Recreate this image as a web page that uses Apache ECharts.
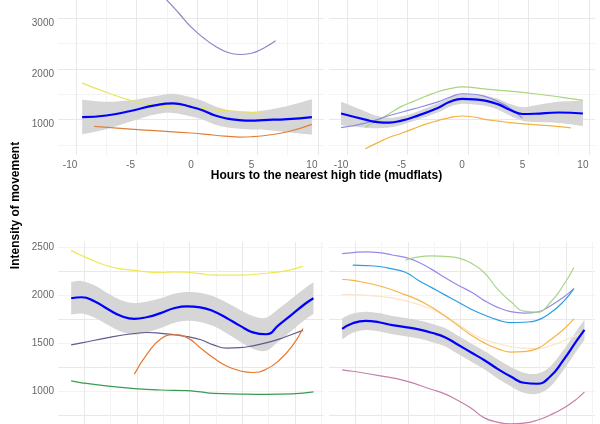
<!DOCTYPE html>
<html>
<head>
<meta charset="utf-8">
<script src="https://cdn.jsdelivr.net/npm/echarts@6/dist/echarts.min.js"></script>
<style>
  html, body { margin: 0; padding: 0; background: #fff; }
  #main { width: 600px; height: 424px; }
</style>
</head>
<body>
<div id="main"></div>
<script>
// top row: hours to high tide (mudflats)
var tlBlueX = [-9, -7, -5, -3, -1.5, 0, 1, 2, 3, 4, 5, 6, 8, 10];
var tlBlueY = [1150, 1180, 1270, 1380, 1420, 1350, 1280, 1180, 1120, 1090, 1080, 1090, 1110, 1150];
var tlBandHalf = [340, 270, 210, 180, 190, 190, 185, 180, 175, 170, 175, 190, 260, 350];
var tlYellowX = [-9, -7, -5, -3, -1, 0, 2, 4, 6];
var tlYellowY = [1820, 1640, 1480, 1380, 1345, 1340, 1290, 1255, 1225];
var tlOrangeX = [-8, -5, -3, 0, 2, 4, 5, 6, 8, 10];
var tlOrangeY = [965, 910, 880, 835, 790, 755, 760, 780, 860, 1005];
var tlPurpleX = [-4, -3, -2, -1, 0, 1, 2, 3, 4, 5, 6, 7];
var tlPurpleY = [3950, 3700, 3460, 3200, 2930, 2720, 2550, 2430, 2385, 2410, 2510, 2655];

var trBlueX = [-10, -8, -7, -6, -5, -4, -2, -1, 0, 1, 2, 3, 4, 5, 6, 8, 10];
var trBlueY = [1220, 1100, 1050, 1040, 1080, 1150, 1330, 1450, 1510, 1500, 1470, 1400, 1290, 1210, 1215, 1240, 1220];
var trBandHalf = [230, 160, 120, 95, 85, 80, 90, 95, 100, 100, 100, 105, 115, 135, 165, 210, 250];
var trGreenX = [-8, -7, -6, -5, -4, -3, -2, -1, 0, 2, 4, 6, 8, 10];
var trGreenY = [950, 1080, 1220, 1360, 1460, 1560, 1650, 1710, 1745, 1700, 1660, 1610, 1550, 1480];
var trPurpleX = [-10, -8, -6, -4, -2, -1, 0, 1, 2, 3, 4, 5];
var trPurpleY = [940, 1030, 1180, 1310, 1450, 1540, 1610, 1600, 1550, 1450, 1320, 1130];
var trOrangeX = [-8, -7, -6, -5, -4, -3, -2, -1, 0, 1, 2, 3, 4, 6, 8, 9];
var trOrangeY = [525, 640, 750, 830, 920, 1010, 1080, 1140, 1170, 1150, 1100, 1070, 1040, 1000, 960, 935];

// bottom row
var blBlueX = [-4.4, -4, -3.5, -3, -2.5, -2, -1.5, -1, -0.5, 0, 0.5, 1, 1.5, 2, 2.5, 3, 3.5, 4, 4.5, 4.8];
var blBlueY = [1965, 1975, 1930, 1850, 1780, 1750, 1770, 1810, 1860, 1880, 1870, 1830, 1760, 1680, 1610, 1590, 1690, 1800, 1910, 1965];
var blBandHalf = [170, 170, 168, 165, 165, 165, 160, 155, 152, 150, 152, 155, 160, 165, 170, 172, 170, 168, 165, 165];
var blYellowX = [-4.4, -4, -3.5, -3, -2.5, -2, -1.5, -1, -0.5, 0, 0.5, 1, 2, 3, 3.5, 4, 4.4];
var blYellowY = [2460, 2410, 2350, 2300, 2270, 2255, 2240, 2230, 2240, 2235, 2220, 2205, 2205, 2225, 2240, 2265, 2300];
var blSlateX = [-4.4, -4, -3, -2, -1.5, -1, -0.5, 0, 0.5, 1, 1.5, 2, 2.5, 3, 3.5, 4, 4.4];
var blSlateY = [1480, 1500, 1555, 1598, 1608, 1600, 1585, 1565, 1535, 1480, 1445, 1450, 1470, 1500, 1540, 1590, 1630];
var blOrangeX = [-2, -1.5, -1, -0.5, 0, 0.5, 1, 1.5, 2, 2.5, 3, 3.5, 4, 4.4];
var blOrangeY = [1175, 1390, 1540, 1585, 1555, 1450, 1345, 1260, 1210, 1192, 1225, 1320, 1470, 1650];
var blGreenX = [-4.4, -4, -3, -2, -1, 0, 0.5, 1, 2, 3, 4, 4.8];
var blGreenY = [1105, 1085, 1050, 1025, 1010, 1003, 990, 975, 968, 965, 970, 990];

var brBlueX = [-4.4, -4, -3.5, -3, -2.5, -2, -1.5, -1, -0.5, 0, 0.5, 1, 1.5, 2, 2.5, 3, 3.5, 4, 4.5, 4.8];
var brBlueY = [1645, 1705, 1730, 1715, 1685, 1665, 1640, 1605, 1560, 1480, 1400, 1320, 1230, 1150, 1085, 1075, 1150, 1320, 1520, 1635];
var brBandHalf = [110, 100, 95, 95, 95, 95, 95, 95, 95, 95, 95, 95, 100, 100, 105, 105, 105, 105, 105, 105];
var brPurpleX = [-4.4, -4, -3.5, -3, -2.5, -2, -1.5, -1, -0.5, 0, 0.5, 1, 1.5, 2, 2.5, 3, 3.5, 4, 4.4];
var brPurpleY = [2430, 2440, 2448, 2440, 2415, 2390, 2340, 2265, 2180, 2100, 2030, 1940, 1870, 1825, 1810, 1820, 1885, 1975, 2065];
var brGreenX = [-2, -1.5, -1, -0.5, 0, 0.5, 1, 1.5, 2, 2.5, 3, 3.5, 4, 4.4];
var brGreenY = [2360, 2395, 2405, 2400, 2385, 2330, 2230, 2060, 1930, 1830, 1820, 1920, 2100, 2285];
var brSkyX = [-4, -3.5, -3, -2.5, -2, -1.5, -1, -0.5, 0, 0.5, 1, 1.5, 2, 2.5, 3, 3.5, 4, 4.4];
var brSkyY = [2310, 2305, 2295, 2270, 2235, 2150, 2075, 2000, 1925, 1850, 1790, 1740, 1710, 1715, 1735, 1810, 1930, 2065];
var brOrangeX = [-4.4, -4, -3, -2, -1.5, -1, -0.5, 0, 0.5, 1, 1.5, 2, 2.5, 3, 3.5, 4, 4.4];
var brOrangeY = [2160, 2150, 2095, 2000, 1945, 1870, 1780, 1680, 1580, 1500, 1440, 1405, 1410, 1440, 1530, 1640, 1750];
var brPaleX = [-4.4, -3, -2, -1, -0.5, 0, 0.5, 1, 1.5, 2, 2.5, 3, 3.5, 4, 4.8];
var brPaleY = [2005, 1985, 1940, 1850, 1780, 1700, 1600, 1535, 1495, 1460, 1445, 1440, 1470, 1520, 1615];
var brPinkX = [-4.4, -4, -3, -2, -1, -0.5, 0, 0.5, 1, 1.5, 2, 2.5, 3, 3.5, 4, 4.5, 4.8];
var brPinkY = [1220, 1205, 1160, 1105, 1015, 970, 900, 820, 720, 675, 658, 665, 695, 750, 820, 915, 990];

var FONT = '"Liberation Sans", Arial, sans-serif';
var MAJ = '#e8e8e8', MIN = '#f3f3f3', NO = 'rgba(0,0,0,0)';

function pairs(xs, ys) {
    return xs.map(function (x, i) { return [x, ys[i]]; });
}

function line(g, xs, ys, color, width, z) {
    return {
        type: 'line', xAxisIndex: g, yAxisIndex: g,
        data: pairs(xs, ys), smooth: 0.5, symbol: 'none', silent: true,
        lineStyle: { color: color, width: width || 1.2 }, z: z || 3
    };
}

// cubic pieces through pixel points (catmull-rom style), open ends
function curve(p, first) {
    var d = (first ? 'M' : 'L') + p[0][0] + ' ' + p[0][1];
    for (var i = 0; i < p.length - 1; i++) {
        var p0 = p[Math.max(i - 1, 0)], p1 = p[i], p2 = p[i + 1], p3 = p[Math.min(i + 2, p.length - 1)];
        var c1x = p1[0] + (p2[0] - p0[0]) / 6, c1y = p1[1] + (p2[1] - p0[1]) / 6;
        var c2x = p2[0] - (p3[0] - p1[0]) / 6, c2y = p2[1] - (p3[1] - p1[1]) / 6;
        d += 'C' + c1x + ' ' + c1y + ' ' + c2x + ' ' + c2y + ' ' + p2[0] + ' ' + p2[1];
    }
    return d;
}

// grey confidence band around the blue fit
function band(g, xs, ys, half) {
    return {
        type: 'custom', xAxisIndex: g, yAxisIndex: g, z: 1, silent: true,
        data: [[xs[0], ys[0]]],
        renderItem: function (params, api) {
            var up = xs.map(function (x, i) { return api.coord([x, ys[i] + half[i]]); });
            var lo = xs.map(function (x, i) { return api.coord([x, ys[i] - half[i]]); }).reverse();
            return {
                type: 'path',
                shape: { pathData: curve(up, true) + curve(lo, false) + 'Z' },
                style: { fill: '#d6d6d6' }
            };
        }
    };
}

function xAxis(g, min, max, step, colors, isMajor) {
    return {
        type: 'value', gridIndex: g, min: min, max: max, interval: step,
        axisLine: { show: false }, axisTick: { show: false },
        axisLabel: {
            color: '#666', fontSize: 10, fontFamily: FONT, margin: 5,
            formatter: function (v) { return isMajor(v) ? String(Math.round(v)) : ''; }
        },
        splitLine: { show: true, showMinLine: false, showMaxLine: false, lineStyle: { color: colors, width: 1 } }
    };
}

function yAxis(g, min, max, step, colors, isMajor, labels) {
    return {
        type: 'value', gridIndex: g, min: min, max: max, interval: step,
        axisLine: { show: false }, axisTick: { show: false },
        axisLabel: {
            show: labels, color: '#666', fontSize: 10, fontFamily: FONT, margin: 4,
            formatter: function (v) { return isMajor(v) ? String(v) : ''; }
        },
        splitLine: { show: true, showMinLine: false, showMaxLine: false, lineStyle: { color: colors, width: 1 } }
    };
}

var topXColors = [NO, NO, MAJ, NO, NO, NO, NO, MIN, NO, NO];
var topYColors = [NO, MIN, NO, NO, NO, NO, MAJ, NO, NO, NO];
var botXColors = [];
for (var k = 0; k < 20; k++) botXColors.push(k === 9 ? MAJ : (k === 19 ? MIN : NO));
var botYColors = [MAJ, MIN];

function topXMajor(v) { return Math.abs(v % 5) < 1e-6; }
function botXMajor(v) { var r = Math.round(v); return Math.abs(v - r) < 1e-6 && r % 2 === 0; }
function topYMajor(v) { return v % 1000 === 0; }
function botYMajor(v) { return v % 500 === 0; }

var grids = [
    { left: 58, top: -7, width: 266, height: 162 },
    { left: 329, top: -7, width: 266, height: 162 },
    { left: 58, top: 242, width: 266, height: 197 },
    { left: 329, top: 242, width: 266, height: 197 }
].map(function (g) {
    g.containLabel = false;
    g.outerBoundsMode = 'none';
    g.show = false;
    return g;
});

var dom = document.getElementById('main');
var myChart = echarts.init(dom, null, { renderer: 'canvas' });

var option = {
    backgroundColor: '#ffffff',
    animation: false,
    grid: grids,
    xAxis: [
        xAxis(0, -11, 11, 0.5, topXColors, topXMajor),
        xAxis(1, -11, 11, 0.5, topXColors, topXMajor),
        xAxis(2, -4.9, 5.2, 0.1, botXColors, botXMajor),
        xAxis(3, -4.9, 5.2, 0.1, botXColors, botXMajor)
    ],
    yAxis: [
        yAxis(0, 400, 3600, 100, topYColors, topYMajor, true),
        yAxis(1, 400, 3600, 100, topYColors, topYMajor, false),
        yAxis(2, 500, 2550, 250, botYColors, botYMajor, true),
        yAxis(3, 500, 2550, 250, botYColors, botYMajor, false)
    ],
    graphic: [
        {
            type: 'text', x: 326.5, y: 176,
            style: {
                text: 'Hours to the nearest high tide (mudflats)', fill: '#000',
                font: 'bold 12px ' + FONT, textAlign: 'center', textVerticalAlign: 'middle'
            }
        },
        {
            type: 'text', x: 16, y: 205.5, rotation: Math.PI / 2,
            style: {
                text: 'Intensity of movement', fill: '#000',
                font: 'bold 12px ' + FONT, textAlign: 'center', textVerticalAlign: 'middle'
            }
        }
    ],
    series: [
        band(0, tlBlueX, tlBlueY, tlBandHalf),
        line(0, tlYellowX, tlYellowY, '#e8e35c'),
        line(0, tlOrangeX, tlOrangeY, '#e07f3a'),
        line(0, tlPurpleX, tlPurpleY, '#8b85c7'),
        line(0, tlBlueX, tlBlueY, '#0000ff', 2.2, 5),

        band(1, trBlueX, trBlueY, trBandHalf),
        line(1, trGreenX, trGreenY, '#a9d57f'),
        line(1, trPurpleX, trPurpleY, '#8f8ce6'),
        line(1, trOrangeX, trOrangeY, '#f4b23e'),
        line(1, trBlueX, trBlueY, '#0000ff', 2.2, 5),

        band(2, blBlueX, blBlueY, blBandHalf),
        line(2, blYellowX, blYellowY, '#f0e84e'),
        line(2, blSlateX, blSlateY, '#5e5b8e'),
        line(2, blOrangeX, blOrangeY, '#e8762b'),
        line(2, blGreenX, blGreenY, '#3a9a52'),
        line(2, blBlueX, blBlueY, '#0000ff', 2.2, 5),

        band(3, brBlueX, brBlueY, brBandHalf),
        line(3, brPurpleX, brPurpleY, '#968ae6'),
        line(3, brGreenX, brGreenY, '#a8d68a'),
        line(3, brSkyX, brSkyY, '#2b9ee3'),
        line(3, brPaleX, brPaleY, '#fde3c8'),
        line(3, brOrangeX, brOrangeY, '#f5b448'),
        line(3, brPinkX, brPinkY, '#c67fa9'),
        line(3, brBlueX, brBlueY, '#0000ff', 2.2, 5)
    ]
};

if (option && typeof option === 'object') {
    myChart.setOption(option, true);
}
</script>
</body>
</html>
